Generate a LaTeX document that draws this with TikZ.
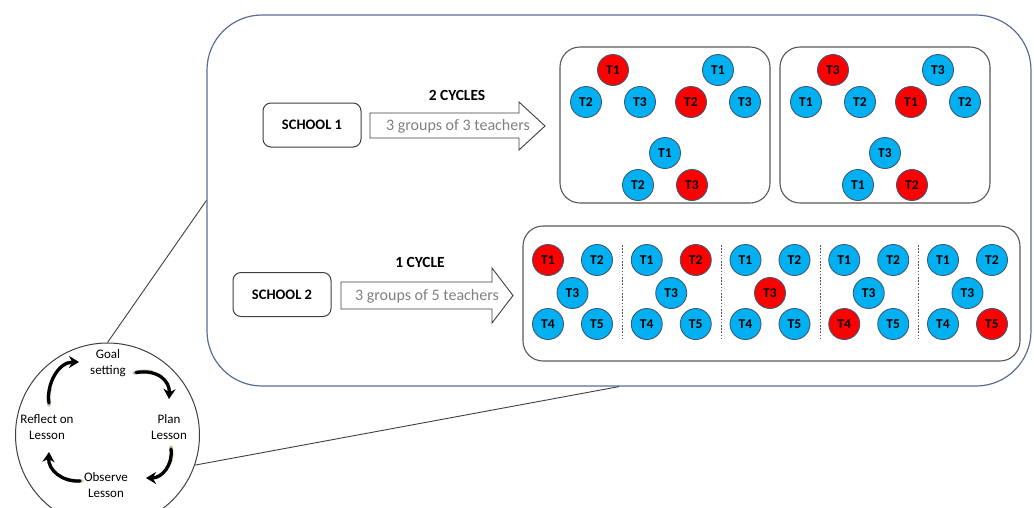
\documentclass[tikz,border=0pt]{standalone}
\usepackage{fontspec}
\setmainfont{Carlito}
\usetikzlibrary{arrows.meta}

\definecolor{frameblue}{HTML}{5A6E94}
\definecolor{tblue}{HTML}{00B0F0}
\definecolor{tred}{HTML}{FF0000}
\definecolor{tedge}{HTML}{3F5A78}
\definecolor{boxgray}{HTML}{595959}
\definecolor{darkline}{HTML}{404040}
\definecolor{arrowtext}{HTML}{808080}
\definecolor{tailgold}{HTML}{9A7A45}

\begin{document}
\begin{tikzpicture}[x=1pt,y=-1pt,
  teacher/.style={circle,draw=tedge,line width=0.9pt,minimum size=31pt,inner sep=0pt,
                  font=\fontsize{13.5}{15}\selectfont\bfseries},
  tb/.style={teacher,fill=tblue},
  tr/.style={teacher,fill=tred},
  groupbox/.style={draw=boxgray,line width=1.1pt,rounded corners=20pt,fill=white,inner sep=0pt},
  schoolbox/.style={draw=darkline,line width=1pt,rounded corners=8pt,fill=white,
                    minimum width=98pt,minimum height=44pt,inner sep=0pt,
                    font=\fontsize{14.5}{16}\selectfont\bfseries},
  blockarrow/.style={draw=darkline,line width=0.9pt,fill=white,line join=miter},
  arrowlabel/.style={text=arrowtext,font=\fontsize{16}{18}\selectfont,inner sep=0pt},
  cyclelabel/.style={font=\fontsize{15.5}{17}\selectfont\bfseries,inner sep=0pt},
  steplabel/.style={align=center,font=\fontsize{13}{16}\selectfont,inner sep=0pt},
  cyclearrow/.style={line width=3.3pt,black,line cap=round,-{Stealth[length=10pt,width=12pt]}},
  cycletail/.style={line width=3.8pt,tailgold,opacity=0.45,line cap=round},
  link/.style={draw=darkline,line width=0.9pt},
  divider/.style={draw=boxgray,line width=0.8pt,dash pattern=on 1.6pt off 1.6pt}
]
\useasboundingbox (0,0) rectangle (1034,507);
\fill[white] (0,0) rectangle (1034,507);
\clip (0,0) rectangle (1034,507);

% outer frame holding both schools
\node[draw=frameblue,line width=1.2pt,rounded corners=55pt,minimum width=824pt,
      minimum height=371pt,inner sep=0pt] (frame) at (619,200.5) {};

% lesson study cycle
\node[circle,draw=darkline,line width=1pt,minimum size=184pt,inner sep=0pt,fill=white]
      (cycle) at (107.5,435) {};
\draw[link] (cycle.north) -- (frame.west);
\draw[link] (cycle.-19) -- (frame.south);

\node[steplabel] (goal)    at (108,363) {Goal\\setting};
\node[steplabel] (plan)    at (169,427) {Plan\\Lesson};
\node[steplabel] (observe) at (106,485) {Observe\\Lesson};
\node[steplabel] (reflect) at (47,427)  {Reflect on\\Lesson};

% faint warm glow at the tail of each cycle arrow
\draw[cycletail] (134,373) .. controls (142,371) and (147,371) .. (152,372);
\draw[cycletail] (171,447) .. controls (172,453) and (172,458) .. (170,463);
\draw[cycletail] (82,481) .. controls (76,481) and (71,481) .. (66,479);
\draw[cycletail] (49,405) .. controls (48,399) and (48,394) .. (50,389);

\draw[cyclearrow] (136,372.5) .. controls (158,369) and (170,381) .. (169,399);
\draw[cyclearrow] (171,449) .. controls (173,465) and (162,478) .. (146,478);
\draw[cyclearrow] (80,481) .. controls (62,482) and (48,470) .. (49,452);
\draw[cyclearrow] (49,403) .. controls (46,385) and (58,362) .. (79,362);

% school 1
\node[schoolbox] (school1) at (312,125) {SCHOOL 1};
\draw[blockarrow] (370,113) -- (519,113) -- (519,102) -- (545,126) -- (519,150)
                  -- (519,138) -- (370,138) -- cycle;
\node[arrowlabel] (arrowtext1) at (458,126) {3 groups of 3 teachers};
\node[cyclelabel] (cycles1) at (457,95) {2 CYCLES};

% school 2
\node[schoolbox] (school2) at (282,294.5) {SCHOOL 2};
\draw[blockarrow] (341,282) -- (492,282) -- (492,268) -- (513,295.5) -- (492,323)
                  -- (492,309) -- (341,309) -- cycle;
\node[arrowlabel] (arrowtext2) at (427,296) {3 groups of 5 teachers};
\node[cyclelabel] (cycles2) at (420,262) {1 CYCLE};

% groups of three, two cycles
\node[groupbox,minimum width=210pt,minimum height=156pt] (cycA) at (665,125) {};
\node[groupbox,minimum width=210pt,minimum height=156pt] (cycB) at (885,125) {};

\foreach \x/\y/\ta/\tl/\tr/\sa/\sl/\sr [count=\i] in {
    613/70/T1/T2/T3/tr/tb/tb,
    718/70/T1/T2/T3/tb/tr/tb,
    665/153/T1/T2/T3/tb/tb/tr,
    833/70/T3/T1/T2/tr/tb/tb,
    938/70/T3/T1/T2/tb/tr/tb,
    885/153/T3/T1/T2/tb/tb/tr}{
  \node[\sa] (tri\i-a) at (\x,\y) {\ta};
  \node[\sl] (tri\i-l) at (\x-27,\y+32) {\tl};
  \node[\sr] (tri\i-r) at (\x+27,\y+32) {\tr};
}

% groups of five, one cycle
\node[groupbox,minimum width=497pt,minimum height=135pt] (cycC) at (771.5,293.5) {};
\foreach \dx in {622.5,721,820,918.5}
  \draw[divider] (\dx,245) -- (\dx,340);

\foreach \k in {1,...,5}{
  \pgfmathsetmacro{\bx}{548+(\k-1)*98.75}
  \foreach \j/\px/\py in {1/0/260,2/49/260,3/24.5/293,4/0/324,5/49/324}{
    \ifnum\j=\k \def\tstyle{tr}\else\def\tstyle{tb}\fi
    \node[\tstyle] (grp\k-\j) at (\bx+\px,\py) {T\j};
  }
}
\end{tikzpicture}
\end{document}
